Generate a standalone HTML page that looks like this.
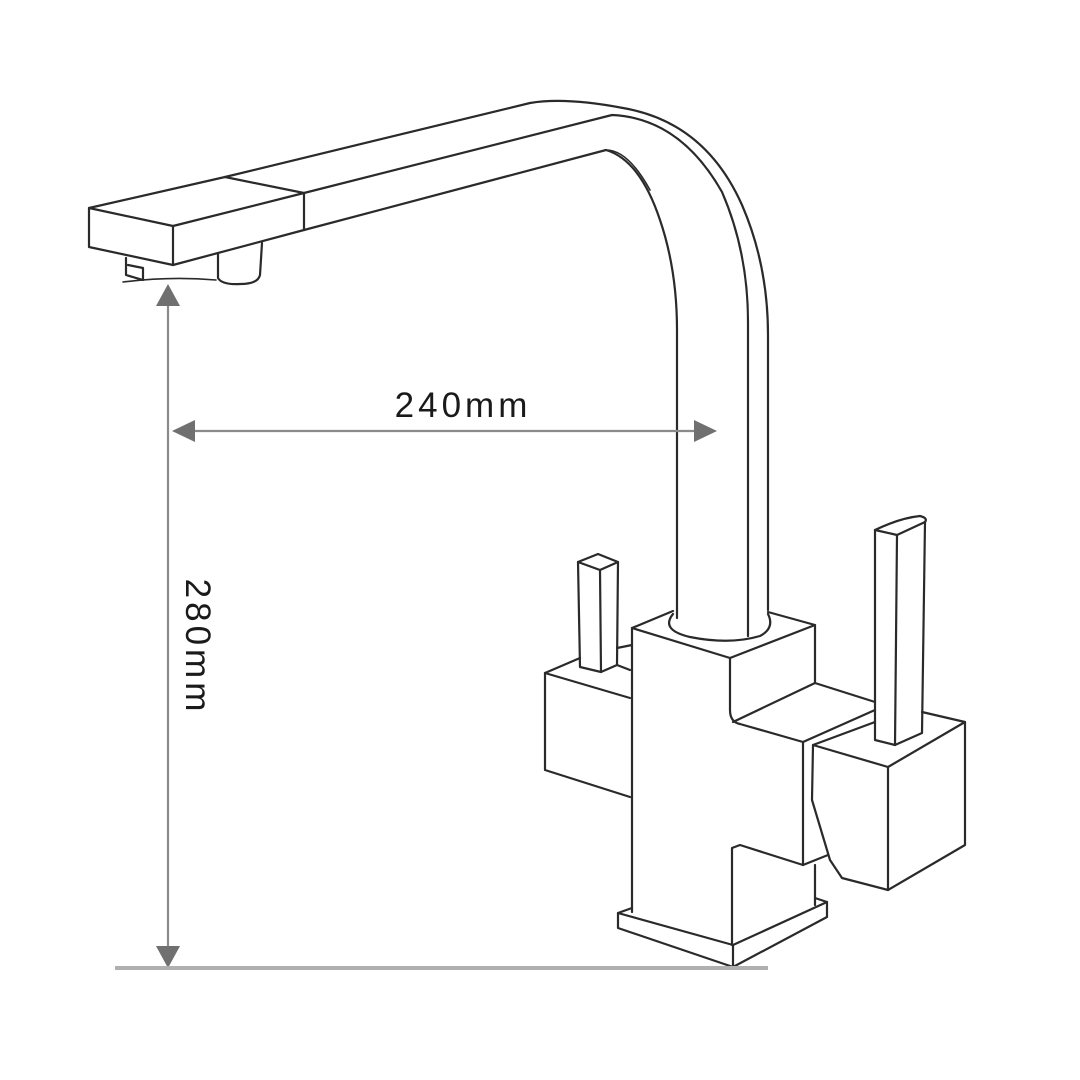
<!DOCTYPE html>
<html><head><meta charset="utf-8"><style>
html,body{margin:0;padding:0;background:#fff;}
svg{display:block;}
</style></head><body>
<svg width="1080" height="1080" viewBox="0 0 1080 1080" xmlns="http://www.w3.org/2000/svg">
<rect width="1080" height="1080" fill="#fff"/>
<g fill="none" stroke="#2a2a2a" stroke-width="2.2" stroke-linejoin="round" stroke-linecap="round">
<path d="M225,177 L530,103 Q565,97 623,108 Q705,122 742,205 Q768,265 768,335 L768,610"/>
<path d="M304,193 L612,115 Q680,118 722,192 Q748,252 748,322 L748,636"/>
<path d="M304,230 L606,150 Q640,160 660,220 Q677,270 677,330 L677,618"/>
<path d="M606,150 Q628,150 650,190" stroke-width="1.6"/>
<path d="M89,208 L225,177 L304,193 L173,226 Z"/>
<path d="M89,208 L89,247 L173,265 L173,226"/>
<path d="M173,265 L304,230 L304,193"/>
<path d="M126,258 L126,275 L143,280 L143,268 L128,265"/>
<path d="M218,253 L218,278 Q222,285 240,284 Q258,284 260,275 L262,243"/>
<path d="M123,282 Q170,276 216,280" stroke-width="1.6"/>
<path d="M632,628 L673,611 M768,612 L815,625 L730,658 L632,628"/>
<path d="M673,614 Q660,630 690,637 Q730,645 760,636 Q775,628 768,614"/>
<path d="M632,628 L632,912"/>
<path d="M730,658 L730,710 Q730,722 740,724 L803,742"/>
<path d="M815,625 L815,683 L875,702"/>
<path d="M733,722 L815,683"/>
<path d="M803,742 L875,710"/>
<path d="M803,742 L803,865 L740,845 L732,848 L732,945"/>
<path d="M803,865 L828,855"/>
<path d="M815,865 L815,905"/>
<path d="M632,908 L618,913 L618,928 L733,967 L827,917 L827,902 L815,898"/>
<path d="M618,913 L733,945 L827,902"/>
<path d="M733,945 L733,967"/>
<path d="M545,673 L580,658 M617,648 L632,645"/>
<path d="M545,673 L630,698"/>
<path d="M545,673 L545,770 L630,797"/>
<path d="M617,665 L630,670"/>
<path d="M578,562 L598,554 L618,562 L600,570 Z"/>
<path d="M578,562 L580,667 L601,672 L617,665 L618,562"/>
<path d="M600,570 L601,672"/>
<path d="M813,745 L888,767 L965,722 L965,845 L888,890 L842,878 L830,860 L812,800 Z"/>
<path d="M888,767 L888,890"/>
<path d="M813,745 L875,722"/>
<path d="M922,712 L965,722"/>
<path d="M875,530 Q900,518 920,516 Q928,518 925,522 L897,535 Z"/>
<path d="M875,530 L875,740 L895,745 L922,733 L925,522"/>
<path d="M897,535 L895,745"/>
</g>
<g stroke="#8a8a8a" fill="#707070">
<line x1="168" y1="300" x2="168" y2="950" stroke-width="2.2"/>
<polygon points="168,284 156,306 180,306" stroke="none"/>
<polygon points="168,968 156,946 180,946" stroke="none"/>
<line x1="190" y1="431" x2="700" y2="431" stroke-width="2.2"/>
<polygon points="172,431 195,420 195,442" stroke="none"/>
<polygon points="717,431 694,420 694,442" stroke="none"/>
<line x1="115" y1="968" x2="768" y2="968" stroke="#b0b0b0" stroke-width="4"/>
</g>
<text x="463" y="417" font-family="Liberation Sans, sans-serif" font-size="35" letter-spacing="4" text-anchor="middle" fill="#1a1a1a">240mm</text>
<text transform="translate(186,647) rotate(90)" font-family="Liberation Sans, sans-serif" font-size="35" letter-spacing="4" text-anchor="middle" fill="#1a1a1a">280mm</text>
</svg>
</body></html>
